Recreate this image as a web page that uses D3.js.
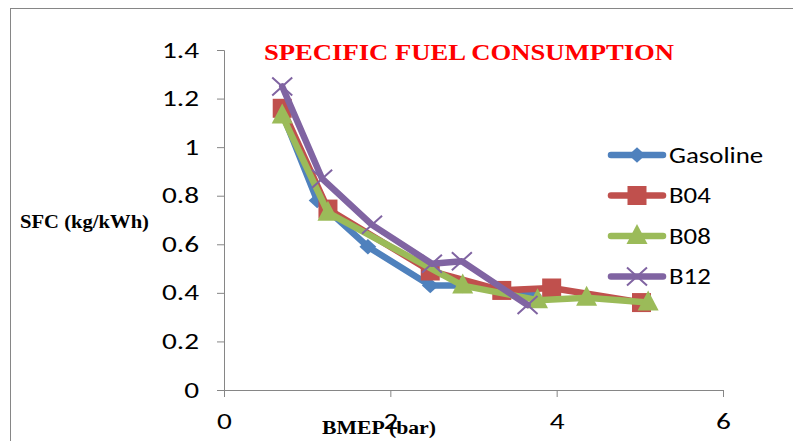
<!DOCTYPE html>
<meta charset="utf-8">
<style>
body { margin: 0; background: #fff; }
.tick text { font-family: Carlito, Lato, 'Liberation Sans', sans-serif; font-size: 22px; fill: #000; }
</style>
<body>
<script src="https://d3js.org/d3.v7.min.js"></script>
<script>
	var seriesNames = ["Gasoline", "B04", "B08", "B12"];
	var colours = ["#4F81BD", "#C0504D", "#9BBB59", "#8064A2"];

	// BMEP (bar) / SFC (kg/kWh) pairs
	var gasolineX = [0.70, 1.12, 1.73, 2.48, 2.87, 3.72];
	var gasolineY = [1.14, 0.78, 0.59, 0.43, 0.43, 0.39];
	var b04X = [0.70, 1.25, 2.48, 3.34, 3.94, 5.02];
	var b04Y = [1.16, 0.745, 0.49, 0.41, 0.42, 0.36];
	var b08X = [0.70, 1.25, 2.87, 3.77, 4.36, 5.10];
	var b08Y = [1.13, 0.73, 0.43, 0.37, 0.38, 0.36];
	var b12X = [0.70, 1.18, 1.78, 2.50, 2.86, 3.65];
	var b12Y = [1.25, 0.87, 0.68, 0.52, 0.53, 0.35];

	var xTicks = [0, 2, 4, 6];
	var yTicks = [0, 0.2, 0.4, 0.6, 0.8, 1, 1.2, 1.4];

	var title = "SPECIFIC FUEL CONSUMPTION";

	var width = 793, height = 441;
	var axisColour = "#868686";

	var svg = d3.select("body").append("svg")
		.attr("width", width)
		.attr("height", height);

	// the original picture is stretched sideways, so the texts are widened a bit
	function stretch(sel, factor) {
		sel.each(function() {
			var w = this.getComputedTextLength();
			d3.select(this).attr("textLength", w * factor).attr("lengthAdjust", "spacingAndGlyphs");
		});
	}

	// outer frame (left and top edges visible)
	svg.append("line").attr("x1", 10.5).attr("x2", 10.5).attr("y1", 8).attr("y2", height)
		.style("stroke", axisColour).style("stroke-width", 1);
	svg.append("line").attr("x1", 10).attr("x2", width).attr("y1", 8.5).attr("y2", 8.5)
		.style("stroke", axisColour).style("stroke-width", 1);

	var x = d3.scaleLinear().domain([0, 6]).range([224, 723]);
	var y = d3.scaleLinear().domain([0, 1.4]).range([390, 50]);

	var xAxis = svg.append("g")
		.attr("transform", "translate(0," + y(0) + ")")
		.call(d3.axisBottom(x).tickValues(xTicks).tickSize(7).tickPadding(16).tickFormat(d3.format("d")));
	var yAxis = svg.append("g")
		.attr("transform", "translate(" + x(0) + ",0)")
		.call(d3.axisLeft(y).tickValues(yTicks).tickSize(7).tickPadding(18).tickFormat(function(d) { return d3.format("")(+d.toFixed(1)); }));

	[xAxis, yAxis].forEach(function(g) {
		g.select(".domain").style("stroke", axisColour);
		g.selectAll(".tick line").style("stroke", axisColour);
		stretch(g.selectAll(".tick text"), 1.33);
	});

	var data = [
		{name: seriesNames[0], xs: gasolineX, ys: gasolineY, marker: "diamond"},
		{name: seriesNames[1], xs: b04X, ys: b04Y, marker: "square"},
		{name: seriesNames[2], xs: b08X, ys: b08Y, marker: "triangle"},
		{name: seriesNames[3], xs: b12X, ys: b12Y, marker: "cross"}
	];

	var line = d3.line().x(function(d) { return x(d[0]); }).y(function(d) { return y(d[1]); });

	function drawMarker(g, type, cx, cy, colour) {
		if (type == "diamond") {
			g.append("path").attr("d", d3.symbol().type(d3.symbolDiamond2).size(150)())
				.attr("transform", "translate(" + cx + "," + cy + ") scale(1.1,1)")
				.attr("fill", colour);
		} else if (type == "square") {
			g.append("rect").attr("x", cx - 9.5).attr("y", cy - 9.5).attr("width", 19).attr("height", 19)
				.attr("fill", colour);
		} else if (type == "triangle") {
			g.append("path").attr("d", "M0,-12L10.5,8L-10.5,8Z")
				.attr("transform", "translate(" + cx + "," + cy + ")")
				.attr("fill", colour);
		} else {
			g.append("path").attr("d", "M-10,-9L10,9M-10,9L10,-9")
				.attr("transform", "translate(" + cx + "," + cy + ")")
				.attr("stroke", colour).attr("stroke-width", 2).attr("fill", "none");
		}
	}

	data.forEach(function(s, i) {
		var pts = s.xs.map(function(v, j) { return [v, s.ys[j]]; });
		var g = svg.append("g");
		g.append("path").datum(pts)
			.attr("d", line)
			.attr("fill", "none")
			.attr("stroke", colours[i])
			.attr("stroke-width", 6.5)
			.attr("stroke-linejoin", "round")
			.attr("stroke-linecap", "round");
		pts.forEach(function(p) {
			drawMarker(g, s.marker, x(p[0]), y(p[1]), colours[i]);
		});
	});

	// legend
	var legend = svg.append("g");
	data.forEach(function(s, i) {
		var ly = 155 + i * 40.5;
		legend.append("line").attr("x1", 611).attr("x2", 663).attr("y1", ly).attr("y2", ly)
			.style("stroke", colours[i]).style("stroke-width", 6.5).style("stroke-linecap", "round");
		drawMarker(legend, s.marker, 637, ly, colours[i]);
		legend.append("text").attr("x", 669).attr("y", ly + 7.5)
			.style("font-family", "Carlito, Lato, 'Liberation Sans', sans-serif")
			.style("font-size", "22px")
			.text(s.name)
			.call(stretch, 1.22);
	});

	// title
	svg.append("text")
		.attr("x", 469).attr("y", 60)
		.attr("text-anchor", "middle")
		.attr("textLength", 410).attr("lengthAdjust", "spacingAndGlyphs")
		.style("font-family", "'Liberation Serif', serif")
		.style("font-weight", "bold")
		.style("font-size", "24px")
		.style("fill", "#FF0000")
		.text(title);

	// axis titles
	svg.append("text")
		.attr("x", 20).attr("y", 228)
		.attr("textLength", 129).attr("lengthAdjust", "spacingAndGlyphs")
		.style("font-family", "'Liberation Serif', serif")
		.style("font-weight", "bold")
		.style("font-size", "18px")
		.text("SFC (kg/kWh)");
	svg.append("text")
		.attr("x", 322).attr("y", 434)
		.attr("textLength", 114).attr("lengthAdjust", "spacingAndGlyphs")
		.style("font-family", "'Liberation Serif', serif")
		.style("font-weight", "bold")
		.style("font-size", "18px")
		.text("BMEP (bar)");
</script>
</body>
</html>
